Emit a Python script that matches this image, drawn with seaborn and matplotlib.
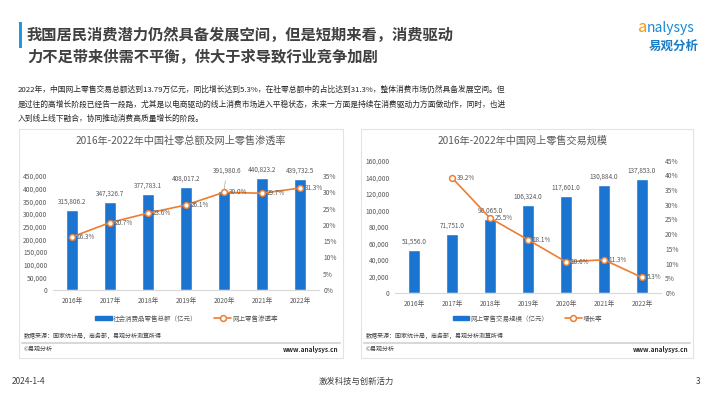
import numpy as np
import matplotlib
matplotlib.use("Agg")
import matplotlib.pyplot as plt
import seaborn as sns
from matplotlib.patches import Rectangle, Patch
from matplotlib.lines import Line2D
from matplotlib.ticker import FuncFormatter, MultipleLocator

# ---- data ----
years = ["2016年", "2017年", "2018年", "2019年", "2020年", "2021年", "2022年"]
retail_total = [315806.2, 347326.7, 377783.1, 408017.2, 391980.6, 440823.2, 439732.5]
online_share = [16.3, 20.7, 23.6, 26.1, 30.0, 29.7, 31.3]
online_total = [51556.0, 71751.0, 90065.0, 106324.0, 117601.0, 130884.0, 137853.0]
growth_years = ["2017年", "2018年", "2019年", "2020年", "2021年", "2022年"]
online_growth = [39.2, 25.5, 18.1, 10.6, 11.3, 5.3]

title = "我国居民消费潜力仍然具备发展空间，但是短期来看，消费驱动\n力不足带来供需不平衡，供大于求导致行业竞争加剧"
para = ["2022年，中国网上零售交易总额达到13.79万亿元，同比增长达到5.3%，在社零总额中的占比达到31.3%，整体消费市场仍然具备发展空间。但",
        "是过往的高增长阶段已经告一段路，尤其是以电商驱动的线上消费市场进入平稳状态，未来一方面是持续在消费驱动力方面做动作，同时，也进",
        "入到线上线下融合，协同推动消费高质量增长的阶段。"]

BLUE = "#1a74d0"
ORANGE = "#ed7d31"
GRAY = "#595959"

sns.set_style("white")
plt.rcParams["font.family"] = ["Noto Sans CJK SC", "DejaVu Sans"]

W, H = 710, 399
fig = plt.figure(figsize=(W / 100, H / 100), dpi=100)


def fx(x):
    return x / W


def fy(y):
    return 1 - y / H


def box(x0, y0, x1, y1):
    return [x0 / W, 1 - y1 / H, (x1 - x0) / W, (y1 - y0) / H]


# ---- header ----
fig.patches.append(Rectangle((fx(19), fy(48)), 3 / W, 26 / H, transform=fig.transFigure,
                             color="#1e9be0", lw=0))
fig.text(fx(27), fy(46), title, fontsize=11, fontweight="bold", color="#404040",
         va="center", linespacing=1.45)
fig.text(fx(638), fy(28), "a", fontsize=12, color="#f39c12", style="italic", va="center")
fig.text(fx(647), fy(28), "nalysys", fontsize=10, color="#1a8ad4", style="italic", va="center")
fig.text(fx(674), fy(46), "易观分析", fontsize=9, color="#1b7cc6", fontweight="bold",
         va="center", ha="center")
for i, line in enumerate(para):
    fig.text(fx(18), fy(90 + i * 14.5), line, fontsize=5.6, color="#262626", va="center")

# ---- footer ----
fig.text(fx(12), fy(382), "2024-1-4", fontsize=6, color="#404040", va="center")
fig.text(fx(356), fy(381), "激发科技与创新活力", fontsize=6, color="#404040", va="center", ha="center")
fig.text(fx(700), fy(382), "3", fontsize=6, color="#404040", va="center", ha="right")


def panel(x0, x1, src_x):
    fig.patches.append(Rectangle((fx(x0), fy(358)), (x1 - x0) / W, 229 / H, transform=fig.transFigure,
                                 fill=False, ec="#e3e3e3", lw=0.8))
    fig.text(fx(src_x), fy(336), "数据来源：国家统计局，商务部，易观分析测算所得", fontsize=4.3,
             color="#404040", va="center")
    fig.add_artist(Line2D([fx(x0 + 3), fx(x1 - 3)], [fy(343), fy(343)], transform=fig.transFigure,
                          color="#d9d9d9", lw=1.5))
    fig.text(fx(src_x), fy(349.5), "©易观分析", fontsize=4.3, color="#404040", va="center")
    fig.text(fx(x1 - 5), fy(349.5), "www.analysys.cn", fontsize=4.6, color="#262626",
             va="center", ha="right", fontweight="bold")


def chart(rect, bars, line_x, line_y, ymax, ystep, rmax, bar_label, line_label, ttl, ttl_x, leg_x, special=None):
    ax = fig.add_axes(rect)
    sns.barplot(x=years, y=bars, ax=ax, color=BLUE, width=0.32, saturation=1)
    ax.set_ylim(0, ymax)
    ax.set_xlim(-0.5, 6.5)
    ax.yaxis.set_major_locator(MultipleLocator(ystep))
    ax.yaxis.set_major_formatter(FuncFormatter(lambda v, p: f"{v:,.0f}"))
    ax.tick_params(axis="both", length=0, labelsize=4.8, labelcolor=GRAY)
    ax.tick_params(axis="y", pad=4)
    ax.tick_params(axis="x", pad=5)
    ax.set_xlabel("")
    ax.set_ylabel("")
    for s in ["top", "left", "right"]:
        ax.spines[s].set_visible(False)
    ax.spines["bottom"].set_color("#d9d9d9")
    ax.spines["bottom"].set_linewidth(0.8)

    ax2 = ax.twinx()
    sns.lineplot(x=line_x, y=line_y, ax=ax2, color=ORANGE, lw=1.2, marker="o", markersize=4.2,
                 markerfacecolor="white", markeredgecolor=ORANGE, markeredgewidth=1.1,
                 legend=False)
    ax2.set_ylim(0, rmax)
    ax2.yaxis.set_major_locator(MultipleLocator(5))
    ax2.yaxis.set_major_formatter(FuncFormatter(lambda v, p: f"{v:.0f}%"))
    ax2.tick_params(axis="y", length=0, labelsize=4.8, labelcolor=GRAY, pad=3)
    ax2.set_ylabel("")
    for s in ax2.spines.values():
        s.set_visible(False)
    for a in (ax, ax2):
        if a.get_legend() is not None:
            a.get_legend().remove()

    for i, v in enumerate(bars):
        if special is not None and i == special:
            ax.annotate(f"{v:,.1f}", xy=(i, v), xytext=(2, 14.5), textcoords="offset points",
                        ha="center", va="center", fontsize=4.6, color=GRAY, annotation_clip=False,
                        arrowprops=dict(arrowstyle="-", color="#a6a6a6", lw=0.5, shrinkA=2, shrinkB=0))
        else:
            ax.annotate(f"{v:,.1f}", xy=(i, v), xytext=(0, 6), textcoords="offset points",
                        ha="center", va="center", fontsize=4.6, color=GRAY, annotation_clip=False)
    for xi, v in zip(line_x, line_y):
        ax2.annotate(f"{v:.1f}%", xy=(xi, v), xytext=(3.5, 0), textcoords="offset points",
                     ha="left", va="center", fontsize=4.6, color=GRAY, annotation_clip=False)

    fig.text(fx(ttl_x), fy(141), ttl, fontsize=7.3, color=GRAY, ha="center", va="center")
    handles = [Patch(color=BLUE, label=bar_label),
               Line2D([], [], color=ORANGE, lw=1.2, marker="o", markersize=4.2, markerfacecolor="white",
                      markeredgecolor=ORANGE, markeredgewidth=1.1, label=line_label)]
    fig.legend(handles=handles, loc="center", bbox_to_anchor=(fx(leg_x), fy(318.5)), ncol=2,
               frameon=False, fontsize=4.7, handlelength=2.5, handleheight=0.5,
               handletextpad=0.2, columnspacing=2.6, labelcolor=GRAY)
    return ax, ax2


panel(19, 343, 24)
panel(361, 693, 366)

chart(box(53, 176, 319, 290), retail_total, list(range(7)), online_share, 450000, 50000, 35,
      "社会消费品零售总额（亿元）", "网上零售渗透率", "2016年-2022年中国社零总额及网上零售渗透率",
      181, 186.5, special=4)
chart(box(395, 160.7, 661, 293), online_total, [years.index(y) for y in growth_years], online_growth,
      160000, 20000, 45, "网上零售交易规模（亿元）", "增长率", "2016年-2022年中国网上零售交易规模",
      523, 527.5)

fig.savefig("out.png", dpi=100)
